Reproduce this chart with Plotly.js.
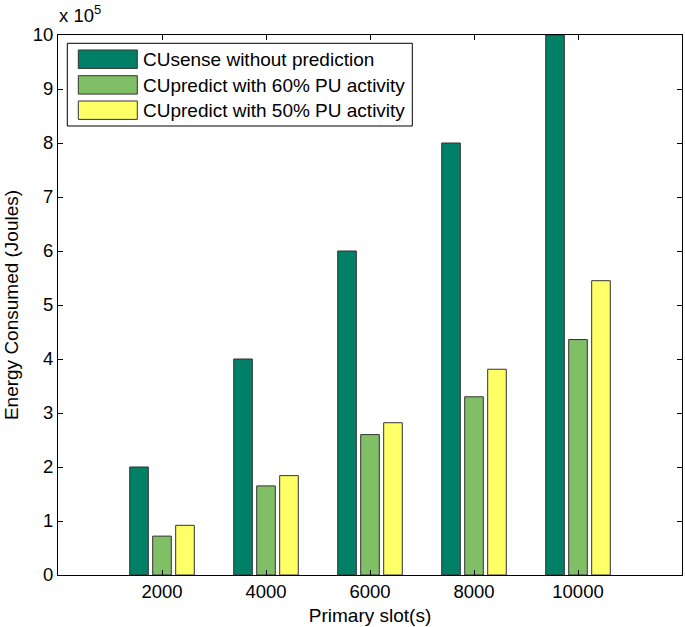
<!DOCTYPE html>
<html>
<head>
<meta charset="utf-8">
<script src="https://cdn.plot.ly/plotly-3.0.1.min.js"></script>
<style>
  html, body { margin: 0; padding: 0; background: #ffffff; }
  #chart { width: 685px; height: 627px; }
</style>
</head>
<body>
<div id="chart"></div>
<script>
// ---- data (energy in units of 10^5 Joules) ----
const categories = [2000, 4000, 6000, 8000, 10000];
const tickLabels = ["2000", "4000", "6000", "8000", "10000"];
const seriesNames = [
  "CUsense without prediction",
  "CUpredict with 60% PU activity",
  "CUpredict with 50% PU activity"
];
const cusense = [2.0, 4.0, 6.0, 8.0, 10.0];
const cupredict60 = [0.72, 1.65, 2.60, 3.30, 4.36];
const cupredict50 = [0.92, 1.84, 2.82, 3.81, 5.45];
const seriesColors = ["rgb(0,128,102)", "rgb(128,191,102)", "rgb(255,255,102)"];

const FONT = "Liberation Sans, Arial, Helvetica, sans-serif";
const W = 685, H = 627;
const M = {l: 58, r: 3, t: 35, b: 52};
const PW = W - M.l - M.r, PH = H - M.t - M.b;
const px = x => (x - M.l) / PW;
const py = y => (H - M.b - y) / PH;

const allValues = [cusense, cupredict60, cupredict50];
const traces = allValues.map((vals, i) => ({
  type: "bar",
  name: seriesNames[i],
  x: categories,
  y: vals,
  marker: {color: seriesColors[i], line: {color: "#333333", width: 1}},
  hoverinfo: "x+y+name"
}));

// manual MATLAB-style legend
const shapes = [{
  type: "rect", xref: "paper", yref: "paper",
  x0: px(67.3), x1: px(412.3), y0: py(126), y1: py(43.3),
  fillcolor: "#ffffff", line: {color: "#000000", width: 1}, layer: "above"
}];
const annotations = [];
const rowTop = [50, 75.7, 101];
seriesNames.forEach((name, i) => {
  shapes.push({
    type: "rect", xref: "paper", yref: "paper",
    x0: px(78.3), x1: px(137.3), y0: py(rowTop[i] + 18.4), y1: py(rowTop[i]),
    fillcolor: seriesColors[i], line: {color: "#333333", width: 1}, layer: "above"
  });
  annotations.push({
    xref: "paper", yref: "paper", x: px(141), y: py(rowTop[i] + 9.5),
    xanchor: "left", yanchor: "middle", showarrow: false,
    text: name, font: {family: FONT, size: 19, color: "#000000"}
  });
});
annotations.push({
  xref: "paper", yref: "paper", x: px(57), y: py(28),
  xanchor: "left", yanchor: "bottom", showarrow: false,
  text: "x 10<sup>5</sup>", font: {family: FONT, size: 18.5, color: "#000000"}
});

const layout = {
  width: W, height: H,
  margin: M,
  paper_bgcolor: "#ffffff", plot_bgcolor: "#ffffff",
  showlegend: false,
  barmode: "group",
  bargap: 0.337,
  bargroupgap: 0.19,
  font: {family: FONT, size: 18.5, color: "#000000"},
  xaxis: {
    range: [0, 12000],
    tickmode: "array", tickvals: categories, ticktext: tickLabels,
    ticks: "inside", ticklen: 5, tickcolor: "#000000",
    showline: true, linecolor: "#000000", linewidth: 1, mirror: "ticks",
    showgrid: false, zeroline: false,
    tickfont: {family: FONT, size: 18.5},
    title: {text: "Primary slot(s)", font: {family: FONT, size: 19}, standoff: 7},
    automargin: false
  },
  yaxis: {
    range: [0, 10], dtick: 1, tick0: 0,
    ticks: "inside", ticklen: 5, tickcolor: "#000000",
    showline: true, linecolor: "#000000", linewidth: 1, mirror: "ticks",
    showgrid: false, zeroline: false,
    tickfont: {family: FONT, size: 18.5},
    title: {text: "Energy Consumed (Joules)", font: {family: FONT, size: 19}, standoff: 9},
    automargin: false
  },
  shapes: shapes,
  annotations: annotations
};

Plotly.newPlot("chart", traces, layout, {displayModeBar: false, staticPlot: true});
</script>
</body>
</html>
